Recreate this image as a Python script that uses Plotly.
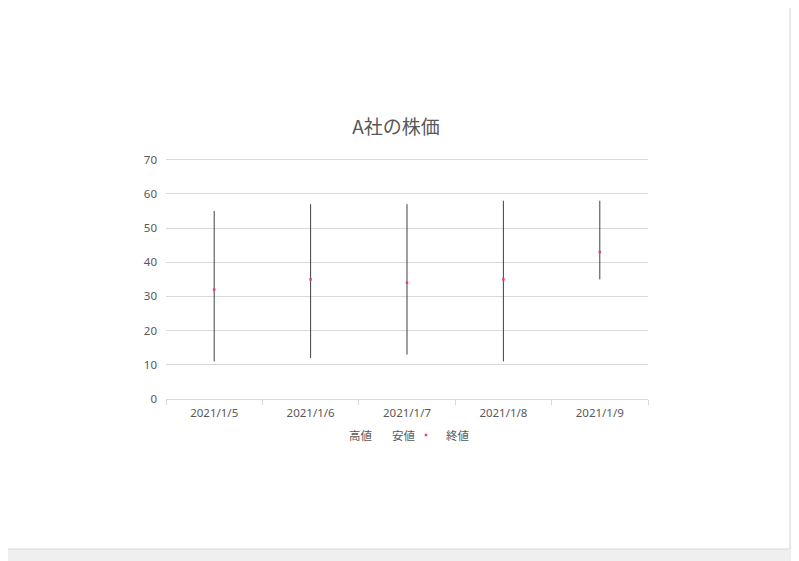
import plotly.graph_objects as go

# 株価データ
dates = ["2021/1/5", "2021/1/6", "2021/1/7", "2021/1/8", "2021/1/9"]
high = [55, 57, 57, 58, 58]
low = [11, 12, 13, 11, 35]
close = [32, 35, 34, 35, 43]

GRAY = "#595959"
JP_FONT = "Noto Sans CJK JP, Noto Sans, sans-serif"
TICK_FONT = "Noto Sans, sans-serif"

# page body has an 8px margin, so the figure is a bit smaller than the window
W, H = 791, 553
OFF = 8
PL, PR, PT, PB = 166 - OFF, 648 - OFF, 158 - OFF, 399 - OFF   # plot box in figure px
PW, PH = PR - PL, PB - PT


def px_x(x):
    return (x - OFF - PL) / PW


def px_y(y):
    return (PB - (y - OFF)) / PH


# high-low lines, one segment per day
hl_x, hl_y = [], []
for d, h, l in zip(dates, high, low):
    hl_x += [d, d, None]
    hl_y += [h, l, None]

fig = go.Figure()
fig.add_trace(go.Scatter(x=hl_x, y=hl_y, mode="lines", line=dict(color="#404040", width=1),
                         showlegend=False, hoverinfo="skip"))
# legend entries for high / low have no visible marks, like Excel
fig.add_trace(go.Scatter(x=dates, y=high, name="高値", mode="markers",
                         marker=dict(size=1, color="rgba(0,0,0,0)"), legend="legend"))
fig.add_trace(go.Scatter(x=dates, y=low, name="安値", mode="markers",
                         marker=dict(size=1, color="rgba(0,0,0,0)"), legend="legend2"))
fig.add_trace(go.Scatter(x=dates, y=close, name="終値", mode="markers",
                         marker=dict(symbol="square", size=2.5, color="#f0387e", line=dict(width=0)),
                         legend="legend3"))

leg = dict(orientation="h", xanchor="left", yanchor="middle", y=px_y(435),
           font=dict(family=JP_FONT, size=11.5, color=GRAY), bgcolor="rgba(0,0,0,0)",
           itemwidth=30)

fig.update_layout(
    width=W, height=H,
    paper_bgcolor="#efefef", plot_bgcolor="rgba(0,0,0,0)",
    margin=dict(l=PL, r=W - PR, t=PT, b=H - PB),
    title=dict(text="A社の株価", x=(396 - OFF) / W, xanchor="center", y=1 - (127 - OFF) / H,
               yanchor="middle", font=dict(family=JP_FONT, size=19, color=GRAY)),
    font=dict(family=TICK_FONT, size=11.5, color=GRAY),
    showlegend=True,
    legend=dict(leg, x=px_x(349 - 40)),
    legend2=dict(leg, x=px_x(392 - 40)),
    legend3=dict(leg, x=px_x(426 - 20)),
    shapes=[dict(type="rect", xref="paper", yref="paper", layer="below",
                 x0=px_x(5), x1=px_x(790), y0=px_y(549), y1=px_y(5),
                 fillcolor="white", line=dict(color="#d9d9d9", width=1))],
)
fig.update_xaxes(type="category", range=[-0.5, len(dates) - 0.5], showgrid=False,
                 showline=True, linecolor="#d9d9d9",
                 ticks="outside", tickson="boundaries", ticklen=5, tickcolor="#d9d9d9",
                 ticklabelstandoff=3, tickfont=dict(family=TICK_FONT, size=11.5, color=GRAY))
fig.update_yaxes(range=[0, 70.5], tickvals=[0, 10, 20, 30, 40, 50, 60, 70], showgrid=True,
                 gridcolor="#d9d9d9", gridwidth=1,
                 zeroline=False, showline=False, ticks="", ticklabelstandoff=8,
                 tickfont=dict(family=TICK_FONT, size=11.5, color=GRAY))

fig.write_html("out.html")
